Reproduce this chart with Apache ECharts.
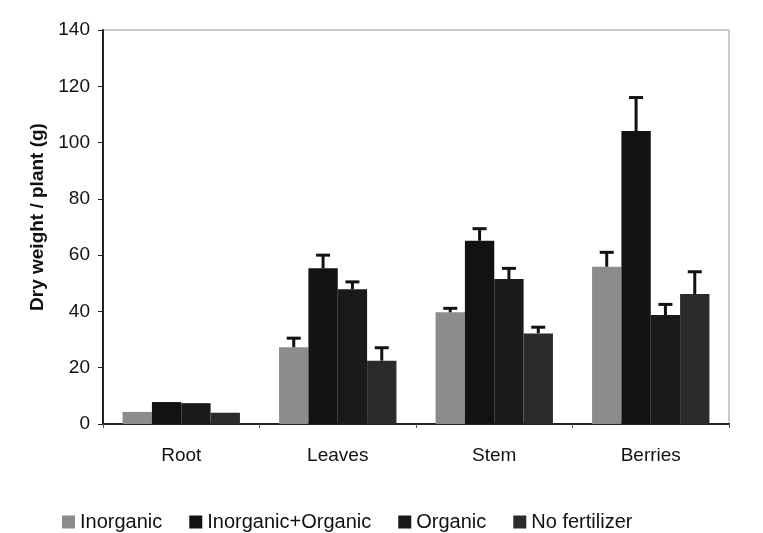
<!DOCTYPE html>
<html>
<head>
<meta charset="utf-8">
<script src="https://cdn.jsdelivr.net/npm/echarts@6/dist/echarts.min.js"></script>
<style>
html, body { margin: 0; padding: 0; background: #fff; }
#chart { width: 763px; height: 533px; }
</style>
</head>
<body>
<div id="chart"></div>
<script>
var categories = ['Root', 'Leaves', 'Stem', 'Berries'];
var seriesNames = ['Inorganic', 'Inorganic+Organic', 'Organic', 'No fertilizer'];
var colors = ['#8c8c8c', '#121212', '#1a1a1a', '#2b2b2b'];

// means
var inorganic = [4.3, 27.3, 39.7, 55.9];
var inorgOrg = [7.8, 55.3, 65.1, 104.1];
var organic = [7.4, 47.9, 51.5, 38.7];
var noFert = [4.0, 22.5, 32.2, 46.2];

// upper end of error bars (0 = none drawn)
var inorganicErr = [0, 30.5, 41.1, 61.0];
var inorgOrgErr = [0, 60.0, 69.4, 116.0];
var organicErr = [0, 50.5, 55.3, 42.5];
var noFertErr = [0, 27.1, 34.4, 54.1];

var means = [inorganic, inorgOrg, organic, noFert];
var errs = [inorganicErr, inorgOrgErr, organicErr, noFertErr];

var myChart = echarts.init(document.getElementById('chart'));

var series = [];
means.forEach(function (vals, i) {
    series.push({
        name: seriesNames[i],
        type: 'bar',
        barGap: '0%',
        barCategoryGap: '25%',
        itemStyle: { color: colors[i] },
        data: vals
    });
});

// error bars: centers of the 4 bars relative to category centre
var offsets = [-0.28125, -0.09375, 0.09375, 0.28125];
errs.forEach(function (hi, i) {
    var data = [];
    hi.forEach(function (h, c) {
        if (h > 0) data.push([c, means[i][c], h]);
    });
    series.push({
        type: 'custom',
        name: 'err' + i,
        z: 5,
        silent: true,
        data: data,
        renderItem: function (params, api) {
            var w = api.size([1, 0])[0];
            var base = api.coord([api.value(0), api.value(1)]);
            var top = api.coord([api.value(0), api.value(2)]);
            var x = base[0] + offsets[i] * w;
            var cap = 7;
            return {
                type: 'group',
                children: [
                    { type: 'line', shape: { x1: x, y1: base[1], x2: x, y2: top[1] },
                      style: { stroke: '#111', lineWidth: 3 } },
                    { type: 'line', shape: { x1: x - cap, y1: top[1], x2: x + cap, y2: top[1] },
                      style: { stroke: '#111', lineWidth: 3 } }
                ]
            };
        }
    });
});

var option = {
    animation: false,
    backgroundColor: '#fff',
    textStyle: { fontFamily: 'Liberation Sans, Arial, sans-serif' },
    grid: {
        left: 103,
        right: 34,
        top: 30,
        bottom: 109,
        show: true,
        borderColor: '#999',
        borderWidth: 1
    },
    legend: {
        data: seriesNames,
        left: 57,
        top: 507,
        icon: 'rect',
        itemWidth: 13,
        itemHeight: 13,
        itemGap: 27,
        textStyle: { fontSize: 20, color: '#111', fontFamily: 'Liberation Sans, Arial, sans-serif' }
    },
    xAxis: {
        type: 'category',
        data: categories,
        axisLine: { lineStyle: { color: '#222', width: 2 } },
        axisTick: { show: true, length: 4, lineStyle: { color: '#555' } },
        axisLabel: { fontSize: 19, color: '#111', margin: 22 }
    },
    yAxis: {
        type: 'value',
        min: 0,
        max: 140,
        interval: 20,
        name: 'Dry weight / plant (g)',
        nameLocation: 'middle',
        nameGap: 53,
        nameTextStyle: { fontSize: 19, fontWeight: 'bold', color: '#111', padding: [0, 0, 0, 20] },
        splitLine: { show: false },
        axisLine: { show: true, lineStyle: { color: '#222', width: 2 } },
        axisTick: { show: true, length: 5, lineStyle: { color: '#222' } },
        axisLabel: { fontSize: 19, color: '#111', margin: 13 }
    },
    series: series
};

myChart.setOption(option);
</script>
</body>
</html>
